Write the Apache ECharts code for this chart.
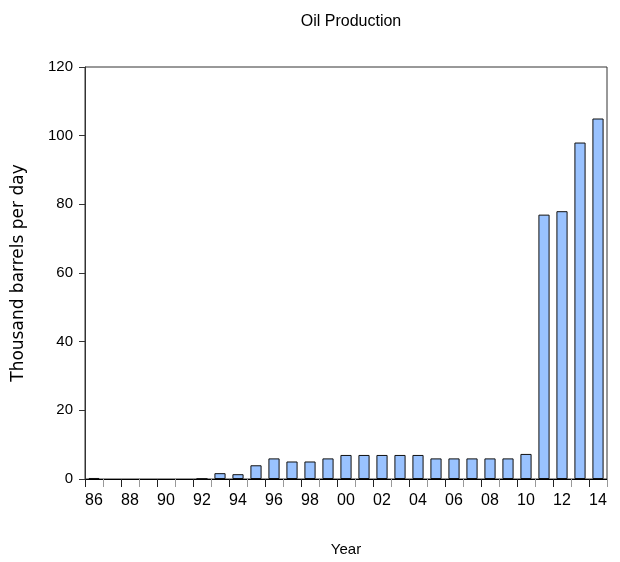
<!DOCTYPE html>
<html>
<head>
<meta charset="utf-8">
<script src="https://cdn.jsdelivr.net/npm/echarts@6/dist/echarts.min.js"></script>
<style>
  html, body { margin: 0; padding: 0; background: #fff; }
  #chart { width: 620px; height: 562px; }
</style>
</head>
<body>
<div id="chart"></div>
<script>
// years 1986 - 2014, two-digit labels
var years = ["86", "87", "88", "89", "90", "91", "92", "93", "94", "95",
  "96", "97", "98", "99", "00", "01", "02", "03", "04", "05",
  "06", "07", "08", "09", "10", "11", "12", "13", "14"];
var production = [0.3, 0, 0, 0, 0, 0, 0.1, 1.7, 1.4, 4.0,
  6.0, 5.1, 5.1, 6.0, 7.0, 7.0, 7.0, 7.0, 7.0, 6.0,
  6.0, 6.0, 6.0, 6.0, 7.3, 77, 78, 98, 105];

var sans = "'Liberation Sans', Arial, sans-serif";
var chart = echarts.init(document.getElementById("chart"));
chart.setOption({
  backgroundColor: "#fff",
  animation: false,
  title: {
    text: "Oil Production",
    left: 346,
    top: 9,
    textAlign: "center",
    textStyle: { fontFamily: sans, fontSize: 16, fontWeight: "normal", color: "#000" }
  },
  grid: {
    left: 85,
    right: 13,
    top: 67,
    bottom: 80,
    show: true,
    borderColor: "#333",
    borderWidth: 1
  },
  xAxis: [{
    type: "category",
    data: years,
    name: "Year",
    nameLocation: "middle",
    nameGap: 63,
    nameTextStyle: { fontFamily: sans, fontSize: 15, color: "#000" },
    axisLine: { show: true, lineStyle: { color: "#000" } },
    axisTick: { show: true, inside: false, alignWithLabel: false, interval: 1, length: 8, lineStyle: { color: "#222" } },
    axisLabel: { interval: 1, margin: 14, fontFamily: sans, fontSize: 16, color: "#000" },
    splitLine: { show: false }
  }, {
    // lighter minor ticks between the labelled years
    type: "category",
    data: years,
    position: "bottom",
    axisLine: { show: false },
    axisTick: {
      show: true,
      inside: false,
      alignWithLabel: false,
      interval: function (i) { return i % 2 === 1; },
      length: 8,
      lineStyle: { color: "#999" }
    },
    axisLabel: { show: false },
    splitLine: { show: false }
  }],
  yAxis: {
    type: "value",
    min: 0,
    max: 120,
    interval: 20,
    name: "Thousand barrels per day",
    nameLocation: "middle",
    nameGap: 58,
    nameTextStyle: { fontFamily: "'DejaVu Sans', sans-serif", fontSize: 17, color: "#000" },
    axisLine: { show: true, lineStyle: { color: "#333" } },
    axisTick: { show: true, inside: false, length: 6, lineStyle: { color: "#333" } },
    axisLabel: { margin: 12, fontFamily: sans, fontSize: 15, color: "#000" },
    splitLine: { show: false }
  },
  series: [{
    type: "bar",
    xAxisIndex: 0,
    data: production.map(function (v) { return v === 0 ? "-" : v; }),
    barWidth: "62%",
    itemStyle: { color: "#99c2ff", borderColor: "#111", borderWidth: 1 }
  }]
});
</script>
</body>
</html>
